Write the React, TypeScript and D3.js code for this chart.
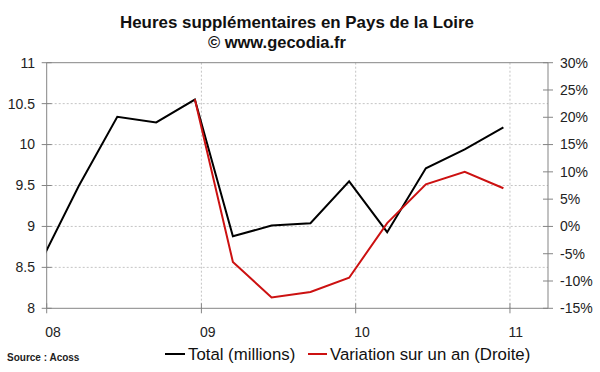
import React from 'react';
import * as d3 from 'd3';

// Quarterly points, plotted mid-month (Excel date axis)
const MONTHS = [
    '2007-12', '2008-03', '2008-06', '2008-09', '2008-12',
    '2009-03', '2009-06', '2009-09', '2009-12',
    '2010-03', '2010-06', '2010-09', '2010-12',
];
const TOTAL = [8.55, 9.49, 10.34, 10.27, 10.55, 8.88, 9.01, 9.04, 9.55, 8.93, 9.71, 9.94, 10.21];
const VARIATION: (number | null)[] = [null, null, null, null, 23.3, -6.5, -13.0, -12.0, -9.4, 0.6, 7.7, 10.0, 7.0];
const LEFT_TICKS = [8, 8.5, 9, 9.5, 10, 10.5, 11];
const RIGHT_TICKS = [-15, -10, -5, 0, 5, 10, 15, 20, 25, 30];
const YEAR_TICKS = ['2008', '2009', '2010', '2011'];

const W = 600;
const H = 372;
const FONT = "'Liberation Sans', Arial, sans-serif";

export default function App() {
    const left = 46.7;
    const right = 548;
    const top = 62.7;
    const bottom = 308.3;

    const parse = d3.timeParse('%Y-%m');
    const midMonth = (s: string) => {
        const d = parse(s)!;
        const next = d3.timeMonth.offset(d, 1);
        return new Date((d.getTime() + next.getTime()) / 2);
    };
    const dates = MONTHS.map(midMonth);

    const x = d3.scaleTime()
        .domain([new Date(2008, 0, 1), new Date(2011, 3, 1)])
        .range([left, right]);
    const yL = d3.scaleLinear().domain([8, 11]).range([bottom, top]);
    const yR = d3.scaleLinear().domain([-15, 30]).range([bottom, top]);

    const totalLine = d3.line<number>()
        .x((_, i) => x(dates[i]))
        .y(d => yL(d));

    const varLine = d3.line<number | null>()
        .defined(d => d !== null)
        .x((_, i) => x(dates[i]))
        .y(d => yR(d as number));

    const yearTicks = YEAR_TICKS.map(y => new Date(+y, 0, 1));
    const fmt = d3.timeFormat('%y');
    const axisColor = '#858585';
    const gridColor = '#c4c4c4';

    return (
        <svg width={W} height={H} style={{ display: 'block', position: 'absolute', left: 0, top: 0, background: '#fff' }}>
            <defs>
                <clipPath id="plot">
                    <rect x={left} y={top} width={right - left} height={bottom - top} />
                </clipPath>
            </defs>

            {/* Titles */}
            <text x={297} y={28} textAnchor="middle" fontFamily={FONT} fontWeight="bold" fontSize={16.9} fill="#111">
                Heures supplémentaires en Pays de la Loire
            </text>
            <text x={277} y={48} textAnchor="middle" fontFamily={FONT} fontWeight="bold" fontSize={16.5} fill="#111">
                © www.gecodia.fr
            </text>

            {/* Grid */}
            {LEFT_TICKS.filter(t => t > 8 && t < 11).map(t => (
                <line key={'gh' + t} x1={left} x2={right} y1={yL(t)} y2={yL(t)}
                    stroke={gridColor} strokeWidth={1} strokeDasharray="2,2" />
            ))}
            {yearTicks.slice(1).map((d, i) => (
                <line key={'gv' + i} x1={x(d)} x2={x(d)} y1={top} y2={bottom}
                    stroke={gridColor} strokeWidth={1} strokeDasharray="2,2" />
            ))}

            {/* Frame / axes */}
            <line x1={left} x2={right} y1={top} y2={top} stroke={axisColor} />
            <line x1={left} x2={left} y1={top} y2={bottom} stroke={axisColor} />
            <line x1={right} x2={right} y1={top} y2={bottom} stroke={axisColor} />
            <line x1={left} x2={right} y1={bottom} y2={bottom} stroke={axisColor} />

            {/* Left axis */}
            {LEFT_TICKS.map(t => (
                <g key={'l' + t}>
                    <line x1={left - 5} x2={left + 5} y1={yL(t)} y2={yL(t)} stroke={axisColor} />
                    <text x={35} y={yL(t)} dy="0.35em" textAnchor="end" fontFamily={FONT} fontSize={14} fill="#222">
                        {t}
                    </text>
                </g>
            ))}

            {/* Right axis */}
            {RIGHT_TICKS.map(t => (
                <g key={'r' + t}>
                    <line x1={right - 5} x2={right + 5} y1={yR(t)} y2={yR(t)} stroke={axisColor} />
                    <text x={560} y={yR(t)} dy="0.35em" textAnchor="start" fontFamily={FONT} fontSize={14} fill="#222">
                        {t + '%'}
                    </text>
                </g>
            ))}

            {/* Bottom axis */}
            {yearTicks.map((d, i) => (
                <g key={'b' + i}>
                    <line x1={x(d)} x2={x(d)} y1={bottom - 5} y2={bottom + 5} stroke={axisColor} />
                    <text x={x(d) - 1.5} y={337} textAnchor="start" fontFamily={FONT} fontSize={14} fill="#222">
                        {fmt(d)}
                    </text>
                </g>
            ))}

            {/* Series */}
            <g clipPath="url(#plot)">
                <path d={totalLine(TOTAL) || ''} fill="none" stroke="#000" strokeWidth={2} strokeLinejoin="miter" />
                <path d={varLine(VARIATION) || ''} fill="none" stroke="#cc1111" strokeWidth={2} />
            </g>

            {/* Legend */}
            <line x1={165} x2={185} y1={354} y2={354} stroke="#000" strokeWidth={2} />
            <text x={188} y={354} dy="0.35em" fontFamily={FONT} fontSize={16.8} fill="#111">Total (millions)</text>
            <line x1={308} x2={327} y1={354} y2={354} stroke="#cc1111" strokeWidth={2} />
            <text x={330} y={354} dy="0.35em" fontFamily={FONT} fontSize={16.8} fill="#111">Variation sur un an (Droite)</text>

            {/* Source */}
            <text x={7} y={361} fontFamily={FONT} fontWeight="bold" fontSize={10} fill="#222">Source : Acoss</text>
        </svg>
    );
}
